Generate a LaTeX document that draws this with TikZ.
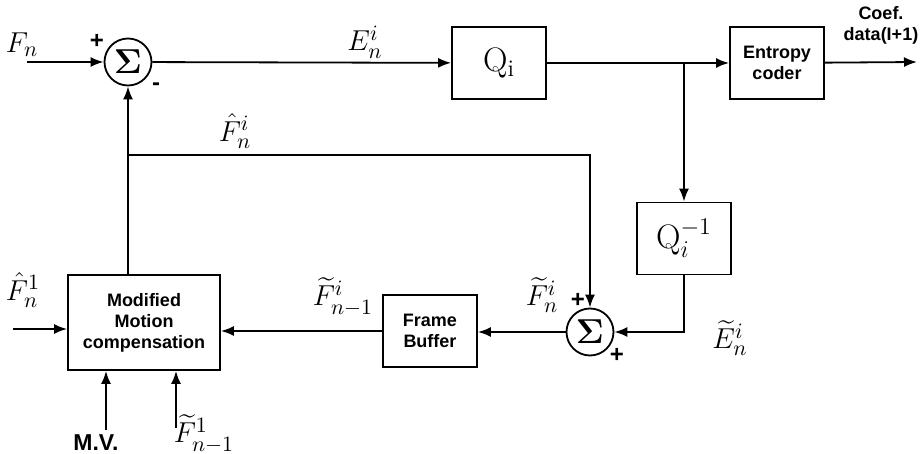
\documentclass[tikz,border=0pt]{standalone}
\usepackage{amsmath}
\usepackage{fontspec}
\setsansfont{Liberation Sans}
\usepackage{tikz}
\usetikzlibrary{arrows.meta,positioning,calc}

\begin{document}
\begin{tikzpicture}[
    x=0.5pt, y=-0.5pt,
    block/.style={rectangle, draw, line width=0.9pt, minimum width=47pt, minimum height=36pt, inner sep=1pt, align=center, font=\sffamily\bfseries\fontsize{9}{10.5}\selectfont},
    sumnode/.style={circle, draw, line width=0.9pt, minimum size=23.5pt, inner sep=0pt, font=\fontsize{16}{16}\selectfont},
    sig/.style={font=\fontsize{15}{17}\selectfont, inner sep=0pt},
    sign/.style={font=\sffamily\bfseries\fontsize{12}{12}\selectfont, inner sep=0pt},
    arrow/.style={-{Latex[length=6.5pt, width=5pt]}, line width=0.9pt},
]
\useasboundingbox (0,0) rectangle (923,454);
% blocks
\node[sumnode] (sum1) at (128,62) {$\boldsymbol{\Sigma}$};
\node[block, font=\fontsize{17}{17}\selectfont] (q) at (499,63) {$\mathrm{Q}_{\mathrm{i}}$};
\node[block] (ec) at (777,63) {Entropy\\coder};
\node[block, font=\fontsize{17}{17}\selectfont] (qinv) at (684,238.5) {$\mathrm{Q}_i^{-1}$};
\node[sumnode] (sum2) at (590,332) {$\boldsymbol{\Sigma}$};
\node[block] (fb) at (430,331) {Frame\\Buffer};
\node[block, minimum width=76pt, minimum height=47.5pt] (mc) at (144,322.5) {Modified\\Motion\\compensation};
% free ends
\coordinate (fin) at (27,62);
\coordinate (out) at (917,62);
\coordinate (br) at (684,62);
\coordinate (tap) at (128,155);
\coordinate (fhin) at (13,329);
\coordinate (mv) at (106,430);
\coordinate (ftin) at (176,428);
% connectors
\draw[arrow] (fin) -- (sum1);
\draw[arrow] (sum1) -- (q);
\draw[arrow] (q) -- (ec);
\draw[arrow] (ec) -- (out);
\draw[arrow] (br) -- (qinv);
\draw[arrow] (sum1 |- mc.north) -- (sum1);
\draw[arrow] (tap) -| (sum2);
\draw[arrow] (qinv) |- (sum2);
\draw[arrow] (sum2) -- (sum2 -| fb.east);
\draw[arrow] (fb.west) -- (fb.west -| mc.east);
\draw[arrow] (fhin) -- (fhin -| mc.west);
\draw[arrow] (mv) -- (mv |- mc.south);
\draw[arrow] (ftin) -- (ftin |- mc.south);
% labels
\node[sig] (lfn) at (22,45) {$F_n$};
\node[sig] (len) at (365,42) {$E_n^i$};
\node[sig] (lhfn) at (235,131) {$\hat{F}_n^i$};
\node[sig] (ltfn) at (542,295) {$\widetilde{F}_n^i$};
\node[sig] (lten) at (730,338) {$\widetilde{E}_n^i$};
\node[sig] (ltfm) at (343,297) {$\widetilde{F}_{n-1}^i$};
\node[sig] (lhf1) at (23,290) {$\hat{F}_n^1$};
\node[sig] (ltf1) at (204,434) {$\widetilde{F}_{n-1}^1$};
\node[sign] (p1) at (97,41) {+};
\node[sign] (m1) at (156,87) {-};
\node[sign] (p2) at (578,300) {+};
\node[sign] (p3) at (617,355) {+};
\node[block, draw=none, align=center] (coef) at (881,25) {Coef.\\data(I+1)};
\node[block, draw=none, minimum size=0pt, inner sep=0pt, font=\sffamily\bfseries\fontsize{11.5}{12}\selectfont] (lmv) at (96,443) {M.V.};
\end{tikzpicture}
\end{document}
